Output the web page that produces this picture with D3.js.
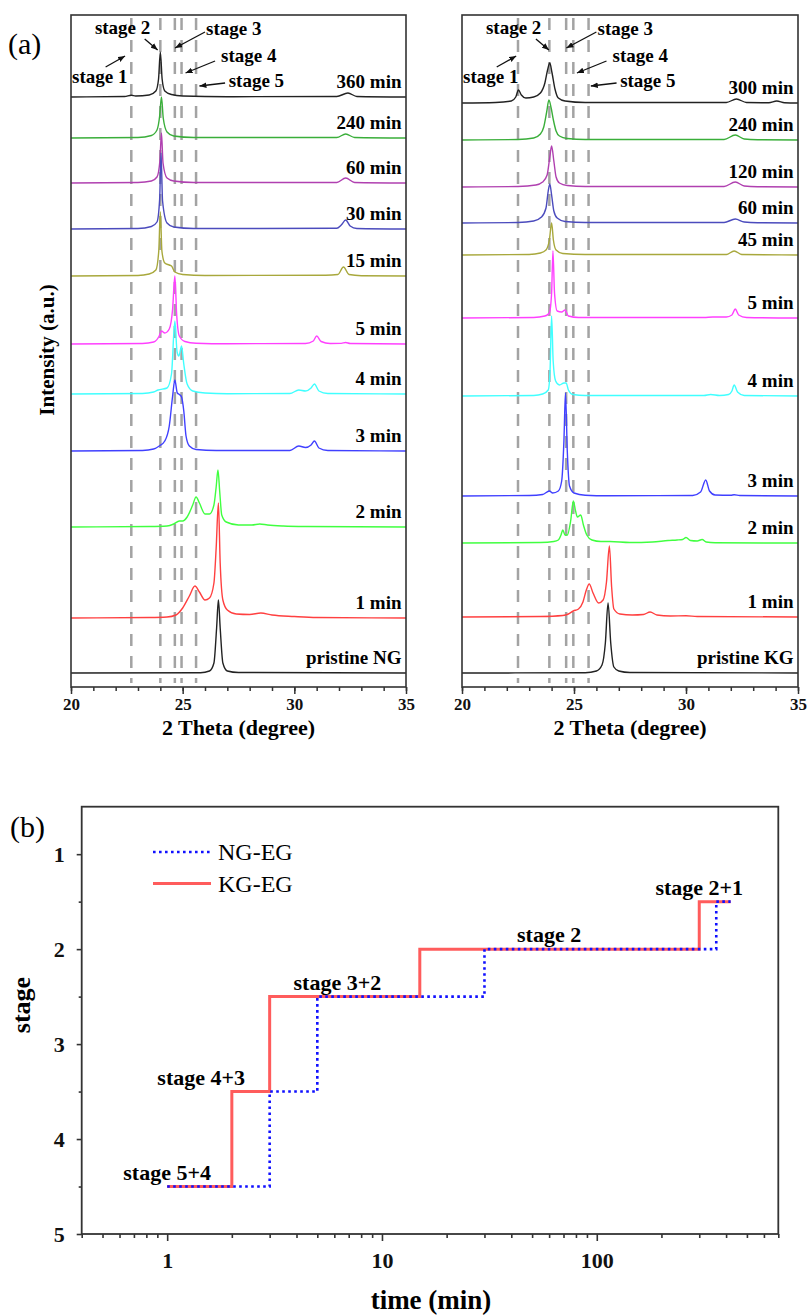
<!doctype html>
<html>
<head>
<meta charset="utf-8">
<title>XRD stages</title>
<script src="https://cdn.jsdelivr.net/npm/d3@7"></script>
<style>
  body { margin: 0; background: #fff; }
  text { font-family: "Liberation Serif", "Times New Roman", serif; }
</style>
</head>
<body>
<script>
// ---------- data: panel (a), NG ----------
const ngLabels = ['360 min', '240 min', '60 min', '30 min', '15 min', '5 min', '4 min', '3 min', '2 min', '1 min', 'pristine NG'];
const ngOffsets = [590, 549, 504, 458, 411, 343, 293, 236, 160, 69, 14];
const ngScans = [
  [[20,0],[22.4,0.5],[22.7,1.8],[22.9,1],[23.5,2],[23.8,6],[23.92,18],[24.0,45],[24.08,18],[24.2,6],[24.5,2.5],[25,1],[27,0.3],[31.9,0.5],[32.4,4],[32.8,0.5],[35,0]],
  [[20,0],[23,0.5],[23.6,2.5],[23.85,8],[23.97,22],[24.05,41],[24.13,20],[24.3,6],[24.6,2],[25.5,0.5],[31.9,0.5],[32.3,4],[32.7,0.5],[35,0]],
  [[20,0],[23,0.5],[23.6,2],[23.85,6],[23.98,22],[24.05,50],[24.12,20],[24.3,5],[24.6,2],[25.5,0.5],[31.9,0.5],[32.3,5],[32.7,0.5],[35,0]],
  [[20,0],[23,0.5],[23.6,2.5],[23.85,7],[23.97,30],[24.03,76],[24.1,28],[24.3,6],[24.6,2],[25.5,0.5],[31.9,0.7],[32.1,4],[32.3,9],[32.5,3],[32.8,0.5],[35,0]],
  [[20,0],[23,0.5],[23.5,2],[23.8,6],[23.93,25],[24.0,64],[24.07,25],[24.2,13],[24.4,11],[24.5,10],[24.65,4],[25,1.5],[26,0.5],[31.4,0.8],[31.95,1.5],[32.2,9],[32.45,1.5],[33,0.3],[35,0]],
  [[20,0],[23.2,0.5],[23.7,2],[23.95,8],[24.05,13],[24.2,11],[24.4,15],[24.55,35],[24.65,68],[24.73,30],[24.85,8],[25.1,2.5],[25.6,0.8],[27,0.3],[30.5,0.5],[30.85,3],[31.0,8],[31.2,2.5],[31.6,0.5],[32.1,0.6],[32.3,1.5],[32.5,0.5],[35,0]],
  [[20,0],[23.2,0.5],[23.7,2],[23.9,4],[24.3,6],[24.5,20],[24.65,73],[24.75,42],[24.83,38],[24.95,48],[25.05,30],[25.2,10],[25.45,3],[26,1],[27,0.3],[29.8,0.5],[30.2,4],[30.5,3],[30.75,6],[30.9,10],[31.1,3],[31.5,0.5],[35,0]],
  [[20,0],[23.2,0.5],[23.7,2],[23.95,5],[24.2,10],[24.4,25],[24.55,55],[24.65,71],[24.76,58],[24.88,56],[24.95,54],[25.05,40],[25.15,15],[25.3,5],[25.6,1.5],[26.5,0.5],[29.8,0.5],[30.2,5],[30.5,3.5],[30.75,6],[30.9,10],[31.1,3],[31.5,0.5],[35,0]],
  [[20,0],[23.5,0.5],[24.3,1],[24.6,3],[24.85,6],[25.0,6],[25.2,10],[25.45,22],[25.6,30],[25.75,24],[26.0,13],[26.2,13],[26.4,22],[26.5,40],[26.58,57],[26.66,35],[26.75,12],[26.95,5],[27.5,2],[28.1,2],[28.45,3],[28.8,2],[29.5,1],[30.5,0.5],[35,0]],
  [[20,0],[23.5,0.5],[24.3,1],[24.7,3],[25.0,10],[25.3,22],[25.55,32],[25.75,26],[26.0,18],[26.2,20],[26.4,35],[26.5,70],[26.6,115],[26.68,55],[26.8,18],[27.0,8],[27.4,4],[28.0,3.5],[28.5,5],[29.0,3],[30,1.5],[31,0.5],[35,0]],
  [[20,0],[25.8,0.3],[26.2,2],[26.4,10],[26.52,45],[26.6,73],[26.68,45],[26.8,10],[27.0,2],[27.5,0.5],[35,0]]
];
const ngStageLines = [22.7, 24.0, 24.65, 24.95, 25.6];

// ---------- data: panel (a), KG ----------
const kgLabels = ['300 min', '240 min', '120 min', '60 min', '45 min', '5 min', '4 min', '3 min', '2 min', '1 min', 'pristine KG'];
const kgOffsets = [584, 547, 500, 464, 432, 369, 291, 191, 144, 70, 14];
const kgScans = [
  [[20,0],[21.5,0.5],[22.2,2],[22.4,6],[22.52,13],[22.65,8],[22.85,5],[23.2,6],[23.5,10],[23.7,20],[23.82,33],[23.92,40],[24.02,30],[24.15,14],[24.3,5],[24.6,2],[25.5,0.5],[31.8,0.5],[32.25,4],[32.7,0.5],[33.7,0.3],[34.05,2],[34.4,0.3],[35,0]],
  [[20,0],[22.5,0.5],[23.2,2],[23.5,6],[23.65,13],[23.78,28],[23.88,40],[23.98,32],[24.08,20],[24.2,9],[24.35,4],[24.7,1.5],[25.5,0.5],[31.7,0.5],[32.2,5],[32.6,1],[33.2,0.3],[35,0]],
  [[20,0],[22.5,0.5],[23.3,2],[23.6,5],[23.8,12],[23.92,30],[24.0,41],[24.1,26],[24.2,10],[24.35,4],[24.7,1.5],[25.5,0.5],[31.7,0.5],[32.2,5],[32.6,1],[33.2,0.3],[35,0]],
  [[20,0],[22.5,0.5],[23.2,2],[23.55,6],[23.75,15],[23.85,32],[23.92,39],[24.0,28],[24.1,12],[24.25,5],[24.6,1.5],[25.5,0.5],[31.7,0.5],[32.2,4],[32.6,1],[33.2,0.3],[35,0]],
  [[20,0],[23,0.5],[23.5,2],[23.75,5],[23.9,15],[24.0,32],[24.08,15],[24.2,5],[24.5,1.5],[25.5,0.5],[31.8,0.5],[32.15,4],[32.5,0.5],[35,0]],
  [[20,0],[23.2,0.5],[23.7,2],[23.9,5],[24.0,25],[24.06,67],[24.13,25],[24.25,7],[24.45,6],[24.6,8],[24.75,2],[25.2,0.5],[30.8,0.5],[31.2,1],[31.8,1],[32.05,3],[32.2,9],[32.35,3],[32.7,0.5],[35,0]],
  [[20,0],[23.2,0.5],[23.6,2],[23.85,6],[23.93,25],[24.0,80],[24.07,35],[24.18,15],[24.35,11],[24.55,13],[24.65,13],[24.75,6],[24.95,1.5],[25.5,0.5],[30.8,0.5],[31.1,1.5],[31.5,0.5],[31.9,1.5],[32.05,5],[32.15,11],[32.3,4],[32.6,0.5],[35,0]],
  [[20,0],[23,0.5],[23.6,1.5],[23.9,5],[24.05,3],[24.3,5],[24.45,15],[24.55,55],[24.62,103],[24.7,45],[24.8,10],[25.0,3],[25.5,0.8],[26.5,0.3],[30.3,0.5],[30.65,4],[30.88,16],[31.05,5],[31.3,1],[32.0,0.8],[32.15,1.3],[32.4,0.5],[35,0]],
  [[20,0],[23.5,0.5],[24.1,1.5],[24.3,3],[24.42,8],[24.5,13],[24.6,8],[24.7,8],[24.85,22],[24.97,42],[25.07,32],[25.15,26],[25.3,28],[25.42,18],[25.57,8],[25.8,3],[26.2,1.5],[26.6,1.5],[27.5,0.5],[28.5,1],[29.2,2.5],[29.6,3],[29.85,3.5],[30.0,5.5],[30.2,2.5],[30.5,2],[30.72,3.5],[30.9,1],[31.3,0.3],[35,0]],
  [[20,0],[23.5,0.5],[24.5,1.5],[24.75,3],[24.97,6],[25.2,8],[25.4,15],[25.55,27],[25.68,33],[25.85,24],[26.1,14],[26.3,17],[26.45,35],[26.58,71],[26.68,30],[26.78,8],[27.05,3],[27.6,2],[28.1,2.5],[28.4,5],[28.7,2],[29.3,1],[30.0,1.2],[30.5,0.5],[35,0]],
  [[20,0],[25.5,0.3],[26.0,2],[26.25,8],[26.4,30],[26.52,70],[26.64,30],[26.78,6],[27.0,2],[27.5,0.5],[35,0]]
];
const kgStageLines = [22.5, 23.9, 24.65, 24.97, 25.65];

const thetaTicks = [20, 25, 30, 35];
// stage callouts: label, text anchor [2θ, a.u.], arrow tail, arrow tip
const stageNotes = [
  ['stage 1', [20.05, 604], [21.55, 620], [22.42, 631]],
  ['stage 2', [21.07, 653], [23.3, 648], [23.88, 637]],
  ['stage 3', [26.05, 652], [26.0, 655], [24.66, 639]],
  ['stage 4', [26.72, 625], [26.45, 626], [25.13, 614]],
  ['stage 5', [27.06, 600], [26.9, 604], [25.75, 601]]
];

// ---------- data: panel (b) ----------
const ngTimes = [1, 3, 5, 30, 360, 420];
const ngStages = [4.5, 3.5, 2.5, 2, 1.5, 1.5];
const kgTimes = [1, 2, 3, 15, 300, 420];
const kgStages = [4.5, 3.5, 2.5, 2, 1.5, 1.5];
const stageTicks = [1, 2, 3, 4, 5];
const timeTicks = [1, 10, 100];
const stepNotes = [['stage 5+4', 1, 4.5], ['stage 4+3', 1.44, 3.5], ['stage 3+2', 6.2, 2.5], ['stage 2', 60, 2], ['stage 2+1', 300, 1.5]];

// ---------- styles ----------
const traceColors = ['#222222', '#3aae3a', '#b040b0', '#4b4bbd', '#a8a83c', '#ff40ff', '#40ffff', '#4040ff', '#40ff40', '#ff4040', '#222222'];
const frameColor = '#333';
const serif = '"Liberation Serif", "Times New Roman", serif';

const svg = d3.select('body').append('svg')
    .attr('width', 809)
    .attr('height', 1316);

svg.append('defs').append('marker')
    .attr('id', 'arrow')
    .attr('viewBox', '0 0 10 8')
    .attr('refX', 10).attr('refY', 4)
    .attr('markerWidth', 7).attr('markerHeight', 6)
    .attr('markerUnits', 'userSpaceOnUse')
    .attr('orient', 'auto')
  .append('path')
    .attr('d', 'M0,0L10,4L0,8Z')
    .attr('fill', '#111');

// one XRD stack
function xrdPanel(left, right, scans, offsets, labels, stageLines) {
  const top = 15, bottom = 687;
  const x = d3.scaleLinear().domain([20, 35]).range([left, right]);
  const y = d3.scaleLinear().domain([0, bottom - top]).range([bottom, top]);
  const g = svg.append('g');

  // dashed stage guides
  g.selectAll('line.guide')
    .data(stageLines)
    .enter().append('line')
      .attr('x1', d => x(d)).attr('x2', d => x(d))
      .attr('y1', top + 3).attr('y2', bottom - 4)
      .attr('stroke', '#a3a3a3')
      .attr('stroke-width', 2.5)
      .attr('stroke-dasharray', '12,10');

  scans.forEach((scan, i) => {
    const line = d3.line()
        .x(d => x(d[0]))
        .y(d => y(d[1] + offsets[i]))
        .curve(d3.curveMonotoneX);
    g.append('path')
      .attr('d', line(scan))
      .attr('fill', 'none')
      .attr('stroke', traceColors[i])
      .attr('stroke-width', 1.4);
    g.append('text')
      .attr('x', x(34.8))
      .attr('y', y(offsets[i] + 9))
      .attr('text-anchor', 'end')
      .attr('font-weight', 'bold')
      .attr('font-size', 19)
      .text(labels[i]);
  });

  // stage callouts
  stageNotes.forEach(n => {
    g.append('text')
      .attr('x', x(n[1][0])).attr('y', y(n[1][1]))
      .attr('font-weight', 'bold')
      .attr('font-size', 19)
      .text(n[0]);
    g.append('line')
      .attr('x1', x(n[2][0])).attr('y1', y(n[2][1]))
      .attr('x2', x(n[3][0])).attr('y2', y(n[3][1]))
      .attr('stroke', '#111')
      .attr('stroke-width', 1.3)
      .attr('marker-end', 'url(#arrow)');
  });

  // frame + axis
  g.append('rect')
    .attr('x', left).attr('y', top)
    .attr('width', right - left).attr('height', bottom - top)
    .attr('fill', 'none')
    .attr('stroke', frameColor)
    .attr('stroke-width', 1.6);

  const minor = g.append('g')
      .attr('transform', `translate(0,${bottom})`)
      .call(d3.axisBottom(x).tickValues(d3.range(20, 36, 1)).tickSize(4).tickFormat(''));
  minor.select('.domain').remove();
  const major = g.append('g')
      .attr('transform', `translate(0,${bottom})`)
      .call(d3.axisBottom(x).tickValues(thetaTicks).tickSize(7).tickPadding(4).tickFormat(d3.format('d')));
  major.select('.domain').remove();
  g.selectAll('.tick line').attr('stroke', frameColor).attr('stroke-width', 1.5);
  major.selectAll('text')
    .attr('font-family', serif)
    .attr('font-size', 17)
    .attr('font-weight', 'bold')
    .attr('fill', '#111');

  g.append('text')
    .attr('x', (left + right) / 2).attr('y', 735)
    .attr('text-anchor', 'middle')
    .attr('font-weight', 'bold')
    .attr('font-size', 22)
    .text('2 Theta (degree)');
}

xrdPanel(71, 406, ngScans, ngOffsets, ngLabels, ngStageLines);
xrdPanel(462, 798, kgScans, kgOffsets, kgLabels, kgStageLines);

svg.append('text')
  .attr('x', 8).attr('y', 54)
  .attr('font-size', 30)
  .text('(a)');
svg.append('text')
  .attr('transform', 'translate(54,350) rotate(-90)')
  .attr('text-anchor', 'middle')
  .attr('font-weight', 'bold')
  .attr('font-size', 21)
  .text('Intensity (a.u.)');

// ---------- panel (b) ----------
const bx = d3.scaleLog().domain([0.4, 700]).range([81.7, 778.3]);
const by = d3.scaleLinear().domain([0.5, 5]).range([806.7, 1234]);
const b = svg.append('g');

b.append('rect')
  .attr('x', 81.7).attr('y', 806.7)
  .attr('width', 778.3 - 81.7).attr('height', 1234 - 806.7)
  .attr('fill', 'none')
  .attr('stroke', frameColor)
  .attr('stroke-width', 1.8);

const minorTimes = [];
[0.1, 1, 10, 100].forEach(p => d3.range(1, 10).forEach(k => {
  const v = +(k * p).toPrecision(3);
  if (v >= 0.4 && v <= 700 && timeTicks.indexOf(v) < 0) minorTimes.push(v);
}));

const bxMinor = b.append('g')
    .attr('transform', 'translate(0,1234)')
    .call(d3.axisBottom(bx).tickValues(minorTimes).tickSize(4).tickFormat(''));
const bxMajor = b.append('g')
    .attr('transform', 'translate(0,1234)')
    .call(d3.axisBottom(bx).tickValues(timeTicks).tickSize(7).tickPadding(11).tickFormat(d3.format('d')));
const byMinor = b.append('g')
    .attr('transform', 'translate(81.7,0)')
    .call(d3.axisLeft(by).tickValues([1.5, 2.5, 3.5, 4.5]).tickSize(3).tickFormat(''));
const byMajor = b.append('g')
    .attr('transform', 'translate(81.7,0)')
    .call(d3.axisLeft(by).tickValues(stageTicks).tickSize(5).tickPadding(12).tickFormat(d3.format('d')));
[bxMinor, bxMajor, byMinor, byMajor].forEach(a => a.select('.domain').remove());
b.selectAll('.tick line').attr('stroke', frameColor).attr('stroke-width', 1.6);
b.selectAll('.tick text')
  .attr('font-family', serif)
  .attr('font-size', 22)
  .attr('font-weight', 'bold')
  .attr('fill', '#111');

const step = d3.line()
    .x(d => bx(d[0]))
    .y(d => by(d[1]))
    .curve(d3.curveStepAfter);

b.append('path')
  .attr('d', step(d3.zip(kgTimes, kgStages)))
  .attr('fill', 'none')
  .attr('stroke', '#ff5c5c')
  .attr('stroke-width', 3);
b.append('path')
  .attr('d', step(d3.zip(ngTimes, ngStages)))
  .attr('fill', 'none')
  .attr('stroke', '#1010ff')
  .attr('stroke-width', 2.6)
  .attr('stroke-dasharray', '2.6,3.4');

stepNotes.forEach(n => {
  b.append('text')
    .attr('x', bx(n[1])).attr('y', by(n[2]) - 7)
    .attr('text-anchor', 'middle')
    .attr('font-weight', 'bold')
    .attr('font-size', 22)
    .text(n[0]);
});

// legend
const legend = [['NG-EG', '#1010ff', '2.6,3.4', 2.6], ['KG-EG', '#ff5c5c', null, 3]];
legend.forEach((l, i) => {
  const ly = 852 + i * 31.5;
  b.append('line')
    .attr('x1', 153).attr('x2', 211)
    .attr('y1', ly).attr('y2', ly)
    .attr('stroke', l[1])
    .attr('stroke-width', l[3])
    .attr('stroke-dasharray', l[2]);
  b.append('text')
    .attr('x', 218).attr('y', ly + 8)
    .attr('font-size', 24)
    .text(l[0]);
});

svg.append('text')
  .attr('x', 10).attr('y', 837)
  .attr('font-size', 30)
  .text('(b)');
svg.append('text')
  .attr('transform', 'translate(30,1005) rotate(-90)')
  .attr('text-anchor', 'middle')
  .attr('font-weight', 'bold')
  .attr('font-size', 26)
  .text('stage');
svg.append('text')
  .attr('x', 431).attr('y', 1309)
  .attr('text-anchor', 'middle')
  .attr('font-weight', 'bold')
  .attr('font-size', 27)
  .text('time (min)');
</script>
</body>
</html>
